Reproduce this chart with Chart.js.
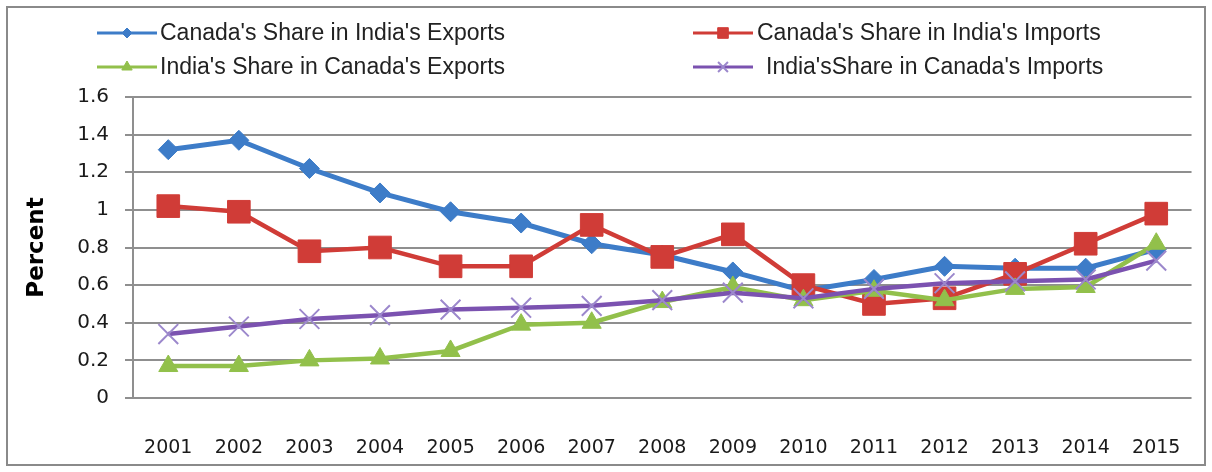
<!DOCTYPE html>
<html>
<head>
<meta charset="utf-8">
<title>Canada-India trade shares</title>
<script src="https://cdn.jsdelivr.net/npm/chart.js@4/dist/chart.umd.min.js"></script>
<style>
  html, body { margin: 0; padding: 0; background: #fff; }
  #wrap { width: 1212px; height: 472px; position: relative; }
</style>
</head>
<body>
<div id="wrap"><canvas id="c" width="1212" height="472"></canvas></div>
<script>
// Years on the category axis
const years = ['2001', '2002', '2003', '2004', '2005', '2006', '2007', '2008',
               '2009', '2010', '2011', '2012', '2013', '2014', '2015'];

// Shares, in percent
const canadaShareInIndiaExports = [1.32, 1.37, 1.22, 1.09, 0.99, 0.93, 0.82, 0.76, 0.67, 0.57, 0.63, 0.70, 0.69, 0.69, 0.79];
const canadaShareInIndiaImports = [1.02, 0.99, 0.78, 0.80, 0.70, 0.70, 0.92, 0.75, 0.87, 0.60, 0.50, 0.53, 0.66, 0.82, 0.98];
const indiaShareInCanadaExports = [0.17, 0.17, 0.20, 0.21, 0.25, 0.39, 0.40, 0.51, 0.59, 0.52, 0.57, 0.52, 0.58, 0.59, 0.82];
const indiaShareInCanadaImports = [0.34, 0.38, 0.42, 0.44, 0.47, 0.48, 0.49, 0.52, 0.56, 0.53, 0.58, 0.61, 0.62, 0.63, 0.73];

const seriesNames = [
  "Canada's Share in India's Exports",
  "Canada's Share in India's Imports",
  "India's Share in Canada's Exports",
  "India'sShare in Canada's Imports"
];

// Value axis labels
const yTickValues = [0, 0.2, 0.4, 0.6, 0.8, 1, 1.2, 1.4, 1.6];
const yTickLabels = ['0', '0.2', '0.4', '0.6', '0.8', '1', '1.2', '1.4', '1.6'];

const GRID = '#8f8f8f';

// Series styling
const styles = [
  { color: '#3d7cc8', pointStyle: 'rectRot',  radius: 10, pointBorder: '#3d7cc8', pointBorderWidth: 1, lineWidth: 5,   legendRadius: 5 },
  { color: '#d03c37', pointStyle: 'rect',     radius: 16, pointBorder: '#d03c37', pointBorderWidth: 1, lineWidth: 4.5, legendRadius: 7.5 },
  { color: '#92c04b', pointStyle: 'triangle', radius: 11, pointBorder: '#92c04b', pointBorderWidth: 1, lineWidth: 4.5, legendRadius: 6 },
  { color: '#7b52b0', pointStyle: 'crossRot', radius: 14, pointBorder: '#9c88cc', pointBorderWidth: 2, lineWidth: 4.5, legendRadius: 7 }
];

const values = [canadaShareInIndiaExports, canadaShareInIndiaImports,
                indiaShareInCanadaExports, indiaShareInCanadaImports];

const datasets = values.map((data, i) => ({
  label: seriesNames[i],
  data: data,
  borderColor: styles[i].color,
  backgroundColor: styles[i].color,
  borderWidth: styles[i].lineWidth,
  pointStyle: styles[i].pointStyle,
  pointRadius: styles[i].radius,
  pointHoverRadius: styles[i].radius,
  pointBackgroundColor: styles[i].color,
  pointBorderColor: styles[i].pointBorder,
  pointBorderWidth: styles[i].pointBorderWidth,
  tension: 0,
  fill: false,
  order: values.length - 1 - i   // later series drawn on top
}));

// White page with a thin grey frame
const framePlugin = {
  id: 'frame',
  beforeDraw(chart) {
    const ctx = chart.ctx;
    ctx.save();
    ctx.fillStyle = '#ffffff';
    ctx.fillRect(0, 0, chart.width, chart.height);
    ctx.strokeStyle = '#8a8a8a';
    ctx.lineWidth = 2;
    ctx.strokeRect(7, 7, chart.width - 14, chart.height - 14);
    ctx.restore();
  }
};

// Two-column legend above the plot
const legendPlugin = {
  id: 'twoColumnLegend',
  afterDraw(chart) {
    const ctx = chart.ctx;
    const colX = [97, 693];
    const rowY = [33, 67];
    const lineLen = 60;
    const textGap = [3, 4, 3, 13];
    ctx.save();
    chart.data.datasets.forEach((ds, i) => {
      const st = styles[i];
      const x0 = colX[i % 2];
      const y = rowY[Math.floor(i / 2)];
      ctx.strokeStyle = st.color;
      ctx.lineWidth = 3;
      ctx.beginPath();
      ctx.moveTo(x0, y);
      ctx.lineTo(x0 + lineLen, y);
      ctx.stroke();
      ctx.fillStyle = st.color;
      ctx.strokeStyle = st.pointBorder;
      ctx.lineWidth = st.pointBorderWidth;
      Chart.helpers.drawPoint(ctx, {
        pointStyle: st.pointStyle,
        radius: st.legendRadius,
        rotation: 0,
        borderWidth: st.pointBorderWidth
      }, x0 + lineLen / 2, y);
      ctx.fillStyle = '#222';
      ctx.font = '23px "Liberation Sans", Arial, sans-serif';
      ctx.textBaseline = 'middle';
      ctx.textAlign = 'left';
      ctx.fillText(ds.label, x0 + lineLen + textGap[i], y + 1);
    });
    ctx.restore();
  }
};

new Chart(document.getElementById('c'), {
  type: 'line',
  data: { labels: years, datasets: datasets },
  options: {
    responsive: false,
    animation: false,
    devicePixelRatio: 1,
    layout: { padding: { left: 20, right: 17, top: 97, bottom: 10 } },
    plugins: {
      legend: { display: false },
      tooltip: { enabled: false },
      title: { display: false }
    },
    scales: {
      x: {
        type: 'category',
        offset: true,
        grid: { display: false },
        border: { display: false },
        ticks: {
          color: '#1a1a1a',
          font: { family: '"DejaVu Sans", sans-serif', size: 19 },
          padding: 31,
          maxRotation: 0,
          autoSkip: false
        },
        afterFit(scale) { scale.height = 64; }
      },
      y: {
        min: 0,
        max: 1.6,
        afterBuildTicks(scale) {
          scale.ticks = yTickValues.map(v => ({ value: v }));
        },
        grid: {
          color: GRID,
          lineWidth: 2,
          tickLength: 8,
          drawTicks: true
        },
        border: { display: true, color: GRID, width: 2 },
        ticks: {
          color: '#1a1a1a',
          font: { family: '"DejaVu Sans", sans-serif', size: 20 },
          padding: 16,
          callback: (v, idx) => yTickLabels[idx]
        },
        title: {
          display: true,
          text: 'Percent',
          color: '#000',
          font: { family: '"DejaVu Sans", sans-serif', size: 23, weight: 'bold' },
          padding: { top: 3, bottom: 0 }
        },
        afterFit(scale) { scale.width = 113; }
      }
    }
  },
  plugins: [framePlugin, legendPlugin]
});
</script>
</body>
</html>
